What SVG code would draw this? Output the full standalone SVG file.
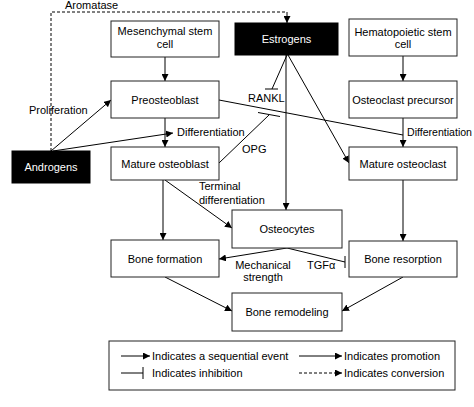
<svg xmlns="http://www.w3.org/2000/svg" width="474" height="407" viewBox="0 0 474 407">
<defs>
<marker id="ah" viewBox="0 0 10 10" refX="10" refY="5" markerWidth="7" markerHeight="7" markerUnits="userSpaceOnUse" orient="auto">
<path d="M0,0 L10,5 L0,10 z" fill="#000"/>
</marker>
</defs>
<style>
text{font-family:"Liberation Sans",Arial,sans-serif;font-size:11px;fill:#000}
.c{text-anchor:middle}
.w{fill:#fff}
.box{fill:#fff;stroke:#222;stroke-width:1}
.blk{fill:#000;stroke:#000}
.ln{stroke:#000;stroke-width:1;fill:none}
.ar{stroke:#000;stroke-width:1;fill:none;marker-end:url(#ah)}
.da{stroke:#000;stroke-width:1;fill:none;stroke-dasharray:3,2}
</style>
<rect width="474" height="407" fill="#fff"/>

<g id="connectors">
<polyline class="da" points="51,151 51,12 287,12 287,17"/>
<line class="ar" x1="287" y1="15" x2="287" y2="23"/>
<text x="65" y="8.5">Aromatase</text>
<line class="ar" x1="165" y1="57" x2="165" y2="81"/>
<line class="ar" x1="403" y1="56" x2="403" y2="81"/>
<line class="ar" x1="165" y1="118" x2="165" y2="147"/>
<line class="ar" x1="403" y1="118" x2="403" y2="147"/>
<line class="ar" x1="51" y1="151" x2="111" y2="100"/>
<text x="29" y="114">Proliferation</text>
<line class="ar" x1="53" y1="151" x2="173" y2="133"/>
<text x="177" y="136">Differentiation</text>
<line class="ln" x1="219" y1="100" x2="403" y2="135"/>
<text x="407" y="136" textLength="65" lengthAdjust="spacingAndGlyphs">Differentiation</text>
<line class="ln" x1="287" y1="55" x2="272" y2="89"/>
<line class="ln" x1="265" y1="89" x2="278" y2="89"/>
<text x="248" y="102">RANKL</text>
<line class="ln" x1="219" y1="163" x2="269" y2="115"/>
<line class="ln" x1="258" y1="112.5" x2="280" y2="116.5"/>
<text x="242" y="153">OPG</text>
<line class="ar" x1="286" y1="55" x2="286" y2="210"/>
<line class="ar" x1="288" y1="55" x2="349" y2="163"/>
<line class="ar" x1="163" y1="180" x2="163" y2="240"/>
<line class="ar" x1="165" y1="180" x2="232" y2="228"/>
<text x="199" y="190">Terminal</text>
<text x="199" y="204">differentiation</text>
<line class="ar" x1="403" y1="180" x2="403" y2="241"/>
<line class="ar" x1="287" y1="248" x2="219" y2="259"/>
<line class="ln" x1="287" y1="248" x2="345" y2="262"/>
<line class="ln" x1="345" y1="256" x2="345" y2="268"/>
<text class="c" x="263" y="269">Mechanical</text>
<text class="c" x="263" y="281">strength</text>
<text x="307" y="269">TGFα</text>
<line class="ar" x1="165" y1="277" x2="232" y2="311"/>
<line class="ar" x1="403" y1="277" x2="342" y2="311"/>
</g>

<g id="mesenchymal"><rect class="box" x="111" y="21" width="108" height="36"/><text class="c" x="165" y="35">Mesenchymal stem</text><text class="c" x="165" y="48">cell</text></g>
<g id="estrogens"><rect class="blk" x="235" y="23" width="103" height="32"/><text class="c w" x="286.5" y="43">Estrogens</text></g>
<g id="hematopoietic"><rect class="box" x="349" y="19" width="108" height="37"/><text class="c" x="403" y="35.5">Hematopoietic stem</text><text class="c" x="403" y="48">cell</text></g>
<g id="preosteoblast"><rect class="box" x="111" y="81" width="108" height="37"/><text class="c" x="165" y="103.5">Preosteoblast</text></g>
<g id="osteoclast-precursor"><rect class="box" x="349" y="81" width="108" height="37"/><text class="c" x="403" y="103.5">Osteoclast precursor</text></g>
<g id="androgens"><rect class="blk" x="12" y="151" width="78" height="32"/><text class="c w" x="51" y="171">Androgens</text></g>
<g id="mature-osteoblast"><rect class="box" x="111" y="147" width="108" height="33"/><text class="c" x="165" y="167.5">Mature osteoblast</text></g>
<g id="mature-osteoclast"><rect class="box" x="349" y="147" width="108" height="33"/><text class="c" x="403" y="167.5">Mature osteoclast</text></g>
<g id="osteocytes"><rect class="box" x="232" y="210" width="110" height="38"/><text class="c" x="287" y="233">Osteocytes</text></g>
<g id="bone-formation"><rect class="box" x="111" y="240" width="108" height="37"/><text class="c" x="165" y="262.5">Bone formation</text></g>
<g id="bone-resorption"><rect class="box" x="349" y="241" width="108" height="36"/><text class="c" x="403" y="263">Bone resorption</text></g>
<g id="bone-remodeling"><rect class="box" x="232" y="293" width="110" height="38"/><text class="c" x="287" y="316">Bone remodeling</text></g>

<g id="legend">
<rect class="box" x="109" y="341" width="346" height="49"/>
<line class="ar" x1="121" y1="356" x2="150" y2="356"/>
<text x="152" y="360">Indicates a sequential event</text>
<line class="ar" x1="299" y1="356" x2="342" y2="356"/>
<text x="344" y="360">Indicates promotion</text>
<line class="ln" x1="121" y1="373" x2="143" y2="373"/>
<line class="ln" x1="143" y1="367" x2="143" y2="379"/>
<text x="152" y="377">Indicates inhibition</text>
<line class="da" x1="299" y1="373" x2="337" y2="373"/>
<line class="ar" x1="336" y1="373" x2="342" y2="373"/>
<text x="344" y="377">Indicates conversion</text>
</g>
</svg>
